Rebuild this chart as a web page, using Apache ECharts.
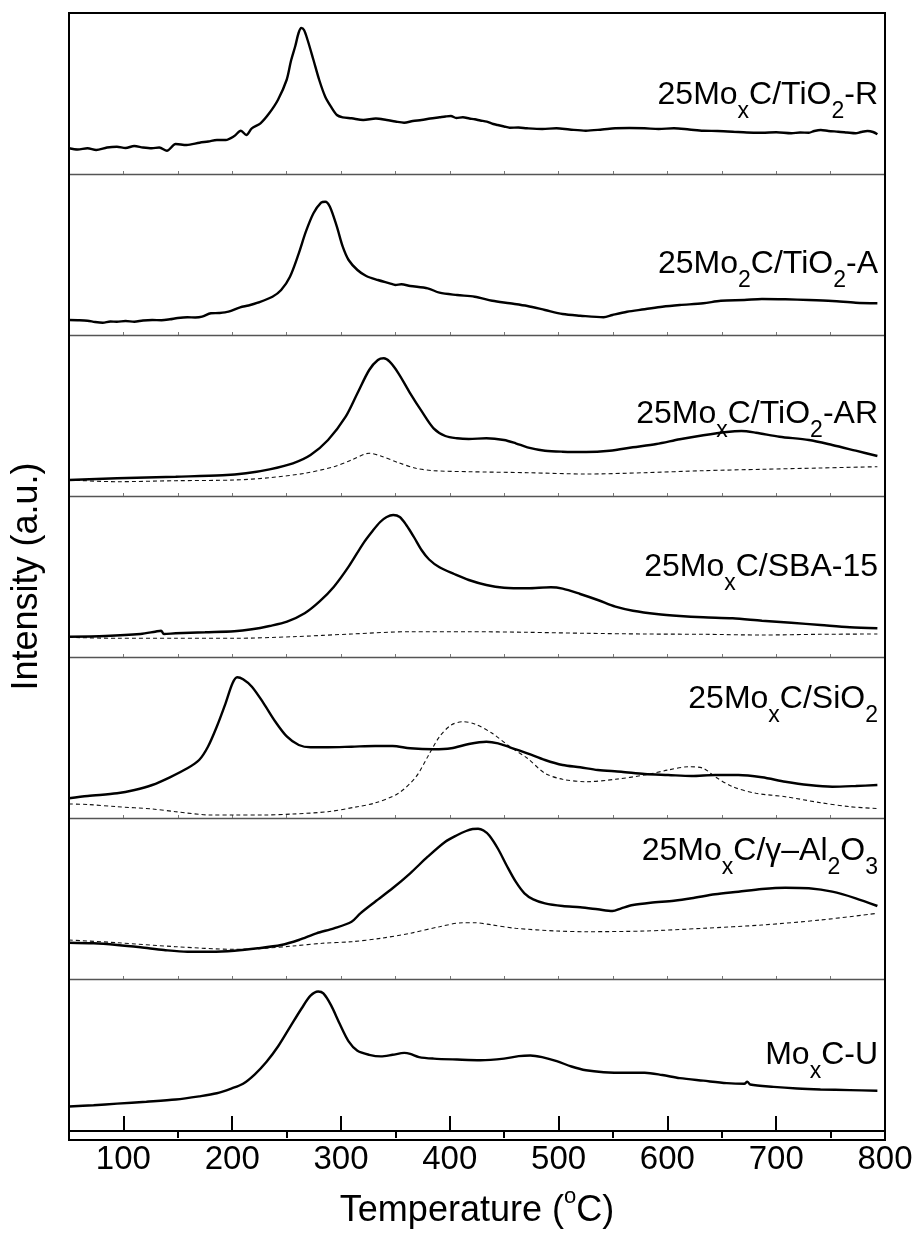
<!DOCTYPE html>
<html>
<head>
<meta charset="utf-8">
<script src="https://cdn.jsdelivr.net/npm/echarts@6/dist/echarts.min.js"></script>
<style>
  html, body { margin: 0; padding: 0; background: #fff; }
  #chart { width: 919px; height: 1237px; }
</style>
</head>
<body>
<div id="chart"></div>
<script>
// TPR profiles, temperature (°C) vs. intensity (a.u.), one panel per catalyst
const tio2R = [[50,25.7],[58,24.5],[67,25.7],[75,24],[85,26.5],[94,27.3],[102,26],[110,28],[118,26.5],[126,25.7],[133,26.5],[140,23.3],[148,30],[158,29],[170,31.3],[178,32.5],[186,34],[194,34],[202,38],[208,43.3],[213,39],[218,45.7],[226,50.7],[234,60.7],[242,74],[250,94],[254,113],[258,128],[261,141],[263.5,146],[266,144],[269.3,134],[274.7,114],[280,94],[285.5,77.3],[290.8,67.3],[296.2,59],[301.6,56.7],[309.7,55.7],[320.5,54],[332,55.5],[342,54],[350,52.5],[358,51.3],[366,53],[374,54],[382,55.5],[390.5,56.7],[396,57.5],[401,58],[406,56],[412,56.7],[418,55.5],[423,54.7],[428,53.5],[434,52.3],[440,50],[444,49],[450,47.5],[455,46.3],[463,46.5],[471,45.7],[485,45],[498,45.7],[510,44.5],[525,43.3],[540,44.5],[552,45.7],[565,46],[579,45.7],[592,45],[606,45.7],[620,44.5],[633,43.3],[646,43],[660,42.3],[673,41.5],[687,41.3],[700,41.7],[714,40.7],[722,41.5],[730,41.3],[735,43],[741,44],[748,43],[757,42.3],[765,41.5],[773,40.7],[778,42],[784,43],[789,42],[793,39.7]];

const tio2A = [[50,15],[58,14.8],[67,14.3],[74,13],[81,12.3],[88,13.5],[94,13.3],[102,14],[110,13.3],[118,14.5],[126.5,15],[135,14.8],[142.7,15.7],[150,17],[158.8,17.7],[166,17.5],[172.3,18.3],[180.4,21.7],[188,22],[196.6,23.3],[207.3,27.7],[215,29.5],[223.5,32.3],[237,38.3],[245,45],[253.1,58.3],[261.2,81.7],[267.7,103.3],[274.7,121.7],[281.7,132.3],[285.5,133.3],[289.8,128.3],[296.2,108.3],[301.6,88.3],[307,75],[315.1,65],[323.2,59],[333.9,55],[344.7,51.7],[350,50],[355.5,50.7],[363.6,49],[379.7,46.7],[390.5,42.3],[406.7,40],[422.9,38.3],[439,34.3],[455.2,31.7],[471.3,29],[487.5,25],[503.7,21],[519.8,19.3],[541.4,17.7],[549.5,20],[562.9,23.3],[579.1,25.7],[595.3,28.3],[611.4,30],[633,31.7],[649.1,34.3],[670.7,35],[686.9,36],[708.4,35.7],[730,35],[751.5,34],[773.1,32.3],[793,31.7]];

const tio2AR = [[50,16],[94.2,17.7],[148.1,19.3],[191.2,20.7],[212.7,22.7],[234.3,26.7],[255.8,32.7],[272,41],[288.1,56],[304.3,79.3],[315.1,102.7],[325.9,126],[333.9,136],[339.3,137.7],[344.7,134.3],[352.8,122.7],[363.6,102.7],[374.4,84.3],[385.1,67.7],[395.9,60],[406.7,57.7],[417.5,57],[433.6,57.7],[449.8,56],[460.6,52.7],[471.3,48.7],[487.5,45.3],[503.7,44.3],[525.2,44],[546.8,45.3],[568.3,48.7],[589.9,52],[611.4,56.7],[633,60.7],[654.5,64],[668,65],[681.5,63.3],[703,59.3],[730,56],[751.5,51],[773.1,45.3],[793,40]];
const tio2ARRef = [[50,16],[94.2,14.3],[148.1,15.3],[201.9,16],[234.3,18.3],[266.6,22.7],[293.5,29.3],[309.7,36],[325.9,42.7],[336.6,40],[352.8,33.3],[369,27.7],[385.1,25.3],[417.5,24.3],[471.3,23.3],[525.2,22],[579.1,23.3],[633,25.3],[686.9,26.7],[740.7,28],[793,29.3]];

const sba15 = [[50,20.3],[83.4,21],[115.7,23],[129.2,25.3],[134.6,26.3],[137.3,23],[148.1,23.7],[175,24.7],[201.9,25.7],[218.1,27.7],[234.3,31],[250.4,35.3],[266.6,43.7],[280.1,55.3],[293.5,70.3],[307,90.3],[320.5,113.7],[329,126],[336,135],[342,140],[348,142],[354,140],[360,132],[367,120],[374,107],[381,97.5],[390.5,89.7],[404,83],[417.5,77],[433.6,72],[449.8,69.3],[471.3,68.7],[492.9,69.7],[503.7,68.3],[519.8,63],[536,57],[552.2,50.3],[568.3,46.3],[589.9,43],[611.4,41],[633,39.7],[659.9,38.7],[686.9,36.3],[713.8,34.3],[740.7,32],[767.7,29.7],[793,28.7]];
const sba15Ref = [[50,19.7],[94.2,18.7],[148.1,18.7],[201.9,18.7],[255.8,20.3],[309.7,23],[363.6,25.3],[417.5,25.3],[471.3,24.7],[525.2,23.7],[579.1,23],[633,22.7],[686.9,22],[740.7,22.7],[793,23]];

const sio2 = [[50,19.7],[67.2,22],[94.2,24.7],[110.3,28],[126.5,33],[142.7,40.7],[158.8,49.7],[169.6,58],[177.7,71.3],[185.8,91.3],[193.9,114.7],[200.3,134.7],[204.6,140.7],[210,138.7],[218.1,131.3],[228.9,114.7],[239.7,96.3],[250.4,81.3],[261.2,73],[272,70.7],[288.1,70.7],[309.7,71.3],[331.3,72],[347.4,72],[363.6,69.7],[385.1,68.7],[401.3,69.7],[417.5,74],[433.6,76.3],[444.4,74.7],[455.2,70.7],[471.3,64.7],[487.5,58],[503.7,53],[519.8,50.7],[536,48],[557.6,46.3],[579.1,44],[600.7,43],[622.2,42],[643.8,43],[665.3,43],[686.9,40.7],[708.4,36.3],[730,33],[751.5,31.3],[773.1,32],[793,33]];
const sio2Ref = [[50,14],[67.2,13.5],[94.2,11.3],[126.5,9],[148.1,6.3],[180.4,3],[201.9,3],[228.9,3],[255.8,4],[288.1,6.3],[315.1,11.3],[331.3,15],[352.8,24.7],[369,41.3],[379.7,61.3],[390.5,81.3],[401.3,93],[412.1,96.3],[422.9,94],[439,84.7],[455.2,71.3],[471.3,59.7],[487.5,44.7],[503.7,38.7],[525.2,36.3],[552.2,38.7],[579.1,43],[600.7,48],[619.5,51.3],[633,49.7],[643.8,41.3],[659.9,31.3],[681.5,24.7],[708.4,21.3],[740.7,15.3],[767.7,11.3],[793,9.5]];

const al2o3 = [[50,36.3],[72.6,35.7],[94.2,34],[115.7,31.7],[137.3,29],[158.8,27.3],[180.4,27.3],[201.9,28.3],[223.5,30.7],[245,34],[261.2,39],[277.4,45.7],[293.5,50.7],[309.7,57.3],[317.8,65.7],[331.3,77.3],[347.4,90.7],[363.6,105.7],[379.7,122.3],[395.9,137.3],[407,144],[415,148],[421,150],[426,150.3],[431,148.5],[436.3,143.5],[444.4,130],[452.5,113],[460.6,97.3],[468.6,85.7],[476.7,79.7],[487.5,75.7],[503.7,73],[519.8,71.7],[536,69.7],[549.5,68],[557.6,70.7],[568.3,74],[584.5,76.3],[606,78.3],[622.2,80.7],[643.8,84.7],[665.3,87.3],[686.9,90],[708.4,91.3],[730,90.7],[751.5,87.3],[773.1,80.7],[793,73]];
const al2o3Ref = [[50,39],[94.2,36.3],[148.1,32.3],[201.9,29.7],[228.9,30.7],[255.8,33],[282.8,35.7],[309.7,37.3],[336.6,40.7],[363.6,45.7],[390.5,52.3],[412.1,56.3],[422.9,56.3],[439,54],[460.6,50.7],[498.3,48],[525.2,47.3],[579.1,48],[633,50.7],[686.9,54],[740.7,59],[793,65.7]];

const moxcU = [[50,26],[72.6,27.3],[94.2,29],[121.1,31],[148.1,33.3],[169.6,36.7],[185.8,40],[199.2,45],[210,50],[220.8,60],[231.6,73.3],[242.4,90],[253.1,110],[263.9,130],[272,143.3],[279,147.7],[283.8,145.7],[290.8,133.3],[298.9,113.3],[307,95],[315.1,85],[325.9,80.7],[336.6,79],[347.4,80.7],[358.2,82.7],[363.6,81.7],[371.7,78.3],[385.1,76.7],[406.7,75.7],[428.2,75],[449.8,76.7],[463.3,79.3],[474,80],[484.8,78.3],[498.3,74],[511.8,68.3],[525.2,64.3],[541.4,62.3],[563,61.7],[579.1,61.7],[595.3,59.3],[611.4,56],[633,53.3],[654.5,50.7],[670.7,50],[673.4,52.3],[676.1,49.3],[697.6,46.7],[719.2,45],[740.7,44],[767.7,43.3],[793,42.7]];

// panel order top to bottom: main profile and dashed reference (null when absent)
const panelSolid = [tio2R, tio2A, tio2AR, sba15, sio2, al2o3, moxcU];
const panelDashed = [null, null, tio2ARRef, sba15Ref, sio2Ref, al2o3Ref, null];
const panelLabels = [
  '25Mo{s|x}C/TiO{s|2}-R',
  '25Mo{s|2}C/TiO{s|2}-A',
  '25Mo{s|x}C/TiO{s|2}-AR',
  '25Mo{s|x}C/SBA-15',
  '25Mo{s|x}C/SiO{s|2}',
  '25Mo{s|x}C/\u03b3\u2013Al{s|2}O{s|3}',
  'Mo{s|x}C-U'
];
const majorTicks = [100, 200, 300, 400, 500, 600, 700];
const minorTicks = [150, 250, 350, 450, 550, 650, 750];
const tickLabels = [100, 200, 300, 400, 500, 600, 700, 800];
const xTitle = 'Temperature ({sup|o}C)';
const yTitle = 'Intensity (a.u.)';

// layout
const FONT = '"Liberation Sans", Arial, Helvetica, sans-serif';
const L = 69, W = 816, T0 = 13, PH = 161, N = 7;
const labelOffsets = [82, 90, 79, 71, 42, 33, 76];

const grids = [], xAxes = [], yAxes = [], series = [], graphics = [];
for (let i = 0; i < N; i++) {
  const last = i === N - 1;
  grids.push({ left: L, width: W, top: T0 + i * PH, height: PH });
  xAxes.push({
    gridIndex: i, type: 'value', min: 50, max: 800, interval: 50,
    axisLine: { show: true, onZero: false, lineStyle: { color: last ? '#000' : '#555', width: last ? 2 : 1.3 } },
    axisTick: last
      ? { show: true, inside: true, length: 15, customValues: majorTicks, lineStyle: { color: '#000', width: 2 } }
      : { show: true, inside: true, length: 3, lineStyle: { color: '#777', width: 1 } },
    axisLabel: last
      ? { show: true, customValues: tickLabels, fontSize: 33, color: '#000', fontFamily: FONT, margin: 12 }
      : { show: false },
    splitLine: { show: false },
    name: last ? xTitle : '',
    nameLocation: 'middle', nameGap: 80,
    nameTextStyle: {
      fontSize: 36, color: '#000', fontFamily: FONT, verticalAlign: 'middle',
      rich: { sup: { fontSize: 22, fontFamily: FONT, color: '#000', lineHeight: 22, padding: [0, 0, 28, 0] } }
    }
  });
  yAxes.push({ gridIndex: i, type: 'value', min: 0, max: PH, show: false });
  series.push({
    type: 'line', xAxisIndex: i, yAxisIndex: i, data: panelSolid[i],
    showSymbol: false, smooth: 0.3, silent: true, z: 3,
    lineStyle: { color: '#000', width: 2.4 }
  });
  if (panelDashed[i]) {
    series.push({
      type: 'line', xAxisIndex: i, yAxisIndex: i, data: panelDashed[i],
      showSymbol: false, smooth: 0.3, silent: true, z: 2,
      lineStyle: { color: '#111', width: 1.1, type: [4, 3] }
    });
  }
  graphics.push({
    type: 'text', x: 878, y: T0 + i * PH + labelOffsets[i], silent: true, z: 50,
    style: {
      text: panelLabels[i], fill: '#000', fontSize: 32, fontFamily: FONT,
      align: 'right', verticalAlign: 'middle',
      rich: { s: { fontSize: 23, fontFamily: FONT, fill: '#000', lineHeight: 23, padding: [34, 0, 0, 0] } }
    }
  });
}
// minor ticks on the bottom axis
xAxes.push({
  gridIndex: N - 1, type: 'value', min: 50, max: 800, interval: 50,
  axisLine: { show: false },
  axisTick: { show: true, inside: true, length: 7, customValues: minorTicks, lineStyle: { color: '#000', width: 2 } },
  axisLabel: { show: false }, splitLine: { show: false }
});

// outer frame and y title
graphics.push({
  type: 'rect', silent: true, z: 60,
  shape: { x: L, y: T0, width: W, height: N * PH },
  style: { fill: 'none', stroke: '#000', lineWidth: 2 }
});
graphics.push({
  type: 'text', x: 27, y: T0 + N * PH / 2, rotation: Math.PI / 2, silent: true,
  style: { text: yTitle, fill: '#000', fontSize: 36, fontFamily: FONT, align: 'center', verticalAlign: 'middle' }
});

const chart = echarts.init(document.getElementById('chart'), null, { renderer: 'canvas' });
chart.setOption({
  backgroundColor: '#fff',
  animation: false,
  grid: grids, xAxis: xAxes, yAxis: yAxes, series: series,
  graphic: graphics
});
</script>
</body>
</html>
